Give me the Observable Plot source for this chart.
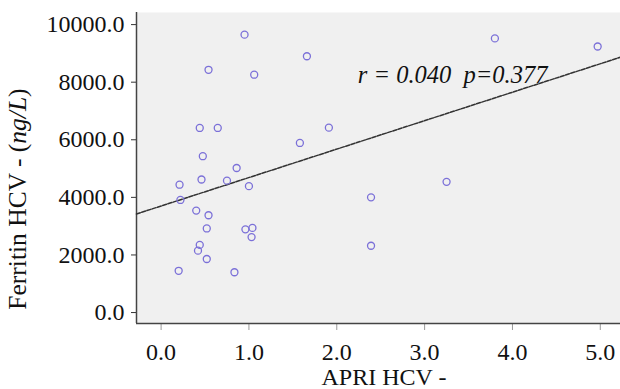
<!DOCTYPE html>
<html>
<head>
<meta charset="utf-8">
<script src="https://cdn.jsdelivr.net/npm/d3@7"></script>
<script src="https://cdn.jsdelivr.net/npm/@observablehq/plot@0.6"></script>
<style>
  html, body { margin: 0; padding: 0; background: #ffffff; }
  #chart { width: 620px; height: 389px; }
</style>
</head>
<body>
<div id="chart"></div>
<script>
// --- data ---
const apri = [0.95, 1.66, 0.54, 1.06, 0.44, 0.645, 1.91, 1.58, 0.475, 0.86,
              3.80, 4.97, 0.21, 0.46, 0.75, 1.00, 0.22, 0.40, 0.54, 0.52,
              0.96, 1.04, 1.03, 0.44, 0.42, 0.52, 0.20, 0.835, 2.39, 2.39, 3.25];
const ferritin = [9650, 8900, 8430, 8260, 6410, 6410, 6420, 5890, 5430, 5020,
                  9520, 9240, 4440, 4620, 4580, 4390, 3910, 3540, 3380, 2920,
                  2890, 2940, 2620, 2350, 2150, 1860, 1450, 1400, 4000, 2320, 4540];
const xTicks = [0, 1, 2, 3, 4, 5];
const yTicks = [0, 2000, 4000, 6000, 8000, 10000];
const xDomain = [-0.28, 5.23];
const yDomain = [-380, 10420];
const fitIntercept = 3700;
const fitSlope = 988;
const annotationText = "r = 0.040  p=0.377";
const annotationX = 2.24;
const annotationY = 8260;
const xLabel = "APRI HCV -";
const yLabelPlain = "Ferritin HCV - (";
const yLabelItalic = "ng/L";
const yLabelEnd = ")";

const points = apri.map((a, i) => ({apri: a, ferritin: ferritin[i]}));
const fit = xDomain.map(x => ({apri: x, ferritin: fitIntercept + fitSlope * x}));

const chart = Plot.plot({
  width: 620,
  height: 389,
  marginLeft: 136,
  marginRight: 0,
  marginTop: 12,
  marginBottom: 66,
  style: {fontFamily: "'Liberation Serif', 'Times New Roman', serif", fontSize: "24px", background: "#ffffff", color: "#111"},
  x: {domain: xDomain},
  y: {domain: yDomain},
  marks: [
    Plot.frame({fill: "#f0f0f0", stroke: null}),
    Plot.axisX({ticks: xTicks, tickFormat: d3.format(".1f"), tickSize: 7, tickPadding: 12, stroke: "#999", label: null}),
    Plot.axisY({ticks: yTicks, tickFormat: d3.format(".1f"), tickSize: 5, tickPadding: 7, stroke: "#333", label: null}),
    Plot.ruleX([xDomain[0]], {stroke: "#444", strokeWidth: 1.5}),
    Plot.ruleY([yDomain[0]], {stroke: "#444", strokeWidth: 1.5}),
    Plot.line(fit, {x: "apri", y: "ferritin", stroke: "#333", strokeWidth: 1.5, strokeDasharray: "4 1.5"}),
    Plot.dot(points, {x: "apri", y: "ferritin", r: 3.5, stroke: "#7b70d8", strokeWidth: 1.3, fill: "none"}),
    Plot.text([annotationText], {x: () => annotationX, y: () => annotationY, text: d => d, textAnchor: "start", fontStyle: "italic", fontSize: 24.5, fill: "#111"})
  ]
});

const svg = d3.select(chart);
svg.append("text")
  .attr("x", 384).attr("y", 385)
  .attr("text-anchor", "middle")
  .attr("fill", "#111")
  .text(xLabel);
const yl = svg.append("text")
  .attr("transform", "translate(26,199) rotate(-90)")
  .attr("text-anchor", "middle")
  .attr("font-size", "25.5px")
  .attr("fill", "#111");
yl.append("tspan").text(yLabelPlain);
yl.append("tspan").attr("font-style", "italic").text(yLabelItalic);
yl.append("tspan").text(yLabelEnd);

document.getElementById("chart").appendChild(chart);
</script>
</body>
</html>
